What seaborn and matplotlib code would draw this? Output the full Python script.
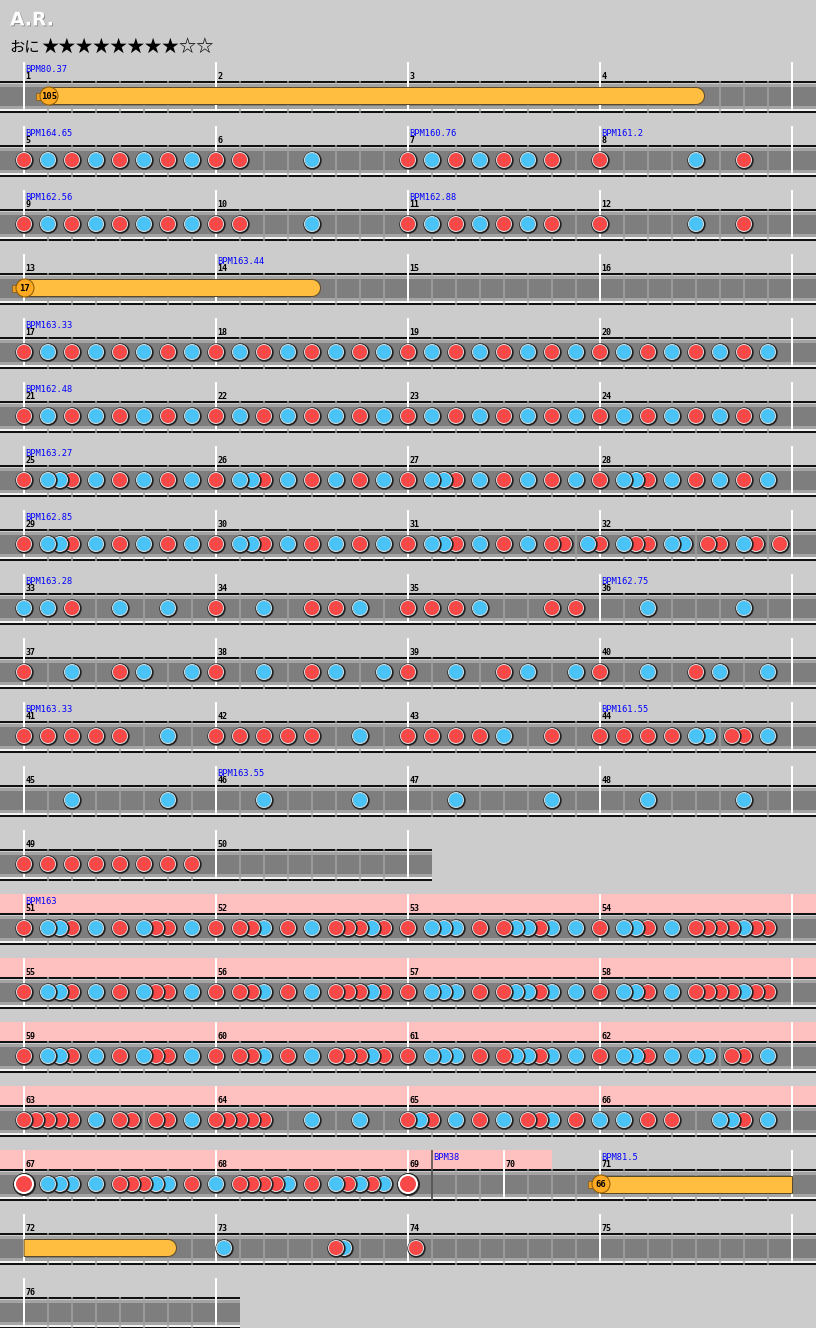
import numpy as np
import pandas as pd
import matplotlib.pyplot as plt
import seaborn as sns
from matplotlib.patches import Rectangle, Polygon, Circle
import matplotlib.patheffects as pe

# ---- chart data -------------------------------------------------------
TITLE = 'A.R.'
COURSE = 'おに'
STARS = 8
STARS_MAX = 10

# one string per measure (TJA style): 0 empty, 1 don, 2 ka, 3 big don,
# 7 balloon start, 8 end of roll. Length of string = grid resolution.
MEASURES = {
    1: '0070000000000000', 4: '0000000080000000',
    5: '1020102010201020', 6: '1010000020000000',
    7: '1020102010201000', 8: '1000000020001000',
    9: '1020102010201020', 10: '1010000020000000',
    11: '1020102010201000', 12: '1000000020001000',
    13: '7000000000000000', 14: '0000000080000000',
    17: '1020102010201020', 18: '1020102010201020',
    19: '1020102010201020', 20: '1020102010201020',
    21: '1020102010201020', 22: '1020102010201020',
    23: '1020102010201020', 24: '1020102010201020',
    25: '1022102010201020', 26: '1022102010201020',
    27: '1022102010201020', 28: '1022102010201020',
    29: '1022102010201020', 30: '1022102010201020',
    31: '1022102010201102', 32: '1021102201102101',
    33: '2020100020002000', 34: '1000200010102000',
    35: '1010102000001010', 36: '0000200000002000',
    37: '1000200010200020', 38: '1000200010200020',
    39: '1000200010200020', 40: '1000200010200020',
    41: '1010101010002000', 42: '1010101010002000',
    43: '1010101020001000', 44: '1010101022011020',
    45: '0000200000002000', 46: '0000200000002000',
    47: '0000200000002000', 48: '0000200000002000',
    49: '1010101010101010',
    51: '1022102010211020', 52: '1011201020111210',
    53: '1022201012212020', 54: '1022102011112110',
    55: '1022102010211020', 56: '1011201020111210',
    57: '1022201012212020', 58: '1022102011112110',
    59: '1022102010211020', 60: '1011201020111210',
    61: '1022201012212020', 62: '1022102022011020',
    63: '1111102011011020', 64: '1111100020002000',
    65: '1210201020112010', 66: '2020101000221020',
    67: '3022202011122010', 68: '2011112010212120',
    69: '30000000', 70: '00000000',
    71: '7000000000000000', 72: '0000000000008000',
    73: '020000000000000120000000', 74: '010000000000000000000000',
}
MEASURE_BEATS = {69: 2, 70: 2}
LAST_MEASURE = 76
ROW_FIRST = [1, 5, 9, 13, 17, 21, 25, 29, 33, 37, 41, 45, 49, 51, 55, 59, 63, 67, 72, 76]
BALLOON_HITS = [105, 17, 66]
BPM_MEASURE = [1, 5, 7, 8, 9, 11, 14, 17, 21, 25, 29, 33, 36, 41, 44, 46, 51, 69, 71]
BPM_OFFSET = [0, 0, 0, 0, 0, 0, 0, 0, 0, 0, 0, 0, 0, 0, 0, 0, 0, 0.25, 0]
BPM_VALUE = ['80.37', '164.65', '160.76', '161.2', '162.56', '162.88', '163.44', '163.33',
             '162.48', '163.27', '162.85', '163.28', '162.75', '163.33', '161.55', '163.55',
             '163', '38', '81.5']
GOGO_START = (51, 0.0)
GOGO_END = (70, 0.5)

# ---- layout -----------------------------------------------------------
W, H = 816, 1328
X0 = 24
BEAT = 48
ROW_Y0 = 96
ROW_STEP = 64
PT = 0.72  # points per pixel at dpi 100

RED = '#F84848'
BLUE = '#48C4F8'
BG = '#CCCCCC'

mstart, mrow, row_end = {}, {}, {}
for r, first in enumerate(ROW_FIRST):
    last = ROW_FIRST[r + 1] - 1 if r + 1 < len(ROW_FIRST) else LAST_MEASURE
    x = X0
    for m in range(first, last + 1):
        mstart[m] = x
        mrow[m] = r
        x += MEASURE_BEATS.get(m, 4) * BEAT
    row_end[r] = x


def row_y(r):
    return ROW_Y0 + ROW_STEP * r


def mpos(m, frac):
    return mstart[m] + frac * MEASURE_BEATS.get(m, 4) * BEAT


# parse notes and rolls
note_rows = []
rolls = []
open_roll = None
for m in range(1, LAST_MEASURE + 1):
    s = MEASURES.get(m, '0')
    for i, ch in enumerate(s):
        x = mpos(m, i / len(s))
        r = mrow[m]
        if ch in '123':
            kind = {'1': 'don', '2': 'ka', '3': 'don'}[ch]
            note_rows.append(dict(x=x, y=row_y(r), row=r, kind=kind, big=ch == '3'))
        elif ch in '57':
            open_roll = dict(row=r, x=x, balloon=ch == '7')
        elif ch == '8':
            rolls.append((open_roll, r, x))
            open_roll = None

notes = pd.DataFrame(note_rows)
# earlier notes sit on top of later ones: layer index inside each chain of overlapping notes
notes = notes.sort_values(['row', 'x']).reset_index(drop=True)
layer = []
prev_row, prev_x, j = None, None, 0
for _, n in notes.iterrows():
    if n['row'] == prev_row and n['x'] - prev_x < 20:
        j += 1
    else:
        j = 0
    layer.append(j)
    prev_row, prev_x = n['row'], n['x']
notes['layer'] = layer

# ---- figure -----------------------------------------------------------
sns.set_style('white')
plt.rcParams['font.family'] = ['DejaVu Sans']

fig = plt.figure(figsize=(W / 100, H / 100), dpi=100, facecolor=BG)
ax = fig.add_axes([0, 0, 1, 1])
ax.set_facecolor(BG)

g0 = mpos(*GOGO_START)
g1 = mpos(*GOGO_END)
g0_row, g1_row = mrow[GOGO_START[0]], mrow[GOGO_END[0]]

for r in range(len(ROW_FIRST)):
    c = row_y(r)
    lane_w = row_end[r] + 24
    # gogo time band
    if g0_row <= r <= g1_row:
        a = g0 if r == g0_row else 0
        b = g1 if r == g1_row else W
        if a <= X0:
            a = 0
        if b >= row_end[r]:
            b = W
        ax.add_patch(Rectangle((a, c - 34), b - a, 19, color='#FFC0C0', lw=0, zorder=1))
    # lane
    ax.add_patch(Rectangle((0, c - 15), lane_w, 2, color='#111111', lw=0, zorder=2))
    ax.add_patch(Rectangle((0, c - 11.7), lane_w, 24.4, color='#7E7E7E', lw=0, zorder=2))
    ax.add_patch(Rectangle((0, c - 11.7), lane_w, 2.7, color='#A4A4A4', lw=0, zorder=2))
    ax.add_patch(Rectangle((0, c + 9.5), lane_w, 3.2, color='#A4A4A4', lw=0, zorder=2))
    ax.add_patch(Rectangle((0, c + 12.7), lane_w, 2.3, color='#F4F4F4', lw=0, zorder=2))
    ax.add_patch(Rectangle((0, c + 15), lane_w, 2, color='#111111', lw=0, zorder=2))

# beat grid, bar lines and measure numbers
for m in range(1, LAST_MEASURE + 1):
    c = row_y(mrow[m])
    x = mstart[m]
    nb = MEASURE_BEATS.get(m, 4) * 2
    gx = [x + k * BEAT / 2 for k in range(1, nb)]
    ax.vlines(gx, c - 15, c + 17, color='#A2A2A2', lw=1.5 * PT, zorder=3)
    ax.vlines(x, c - 34, c + 15, color='white', lw=2 * PT, zorder=4)
    ax.text(x + 1.5, c - 19.7, str(m), fontsize=6, family='DejaVu Sans Mono', weight='bold',
            color='black', va='center', ha='left', zorder=6)
for r in range(len(ROW_FIRST)):
    c = row_y(r)
    ax.vlines(row_end[r], c - 34, c + 15, color='white', lw=2 * PT, zorder=4)

# BPM changes
for m, off, val in zip(BPM_MEASURE, BPM_OFFSET, BPM_VALUE):
    c = row_y(mrow[m])
    x = mpos(m, off)
    if off > 0:
        ax.vlines(x, c - 34, c + 17, color='#444444', lw=1.5 * PT, zorder=4)
    ax.text(x + 1, c - 26.5, 'BPM' + val, fontsize=6.3, family='DejaVu Sans Mono',
            color='#0000FF', va='center', ha='left', zorder=6)


# drumrolls / balloons
def roll_shape(x0, x1, c, round_end):
    h = 8.5
    pts = [(x0, c - h), (x1, c - h)]
    if round_end:
        t = np.linspace(-np.pi / 2, np.pi / 2, 30)
        pts += [(x1 + h * np.cos(a), c + h * np.sin(a)) for a in t]
    else:
        pts += [(x1, c + h)]
    pts += [(x0, c + h)]
    return pts


balloon_no = 0
for start, end_row, end_x in rolls:
    for r in range(start['row'], end_row + 1):
        c = row_y(r)
        x0 = start['x'] if r == start['row'] else X0
        x1 = end_x if r == end_row else row_end[r]
        ax.add_patch(Polygon(roll_shape(x0, x1, c, r == end_row), closed=True,
                             facecolor='#FFBE40', edgecolor='#5A4A28', lw=1 * PT, zorder=7))
    if start['balloon']:
        c = row_y(start['row'])
        hx = start['x']
        ax.add_patch(Rectangle((hx - 12, c - 3.5), 6, 7, facecolor='#F0A020',
                               edgecolor='#7A5010', lw=0.6 * PT, zorder=8))
        ax.add_patch(Circle((hx + 1, c), 9, facecolor='#FFAA22', edgecolor='#8A5A00',
                            lw=1 * PT, zorder=8))
        ax.text(hx + 1, c + 0.5, str(BALLOON_HITS[balloon_no]), fontsize=6.4,
                family='DejaVu Sans Mono', weight='bold', color='black',
                ha='center', va='center', zorder=9)
        balloon_no += 1

# notes: one pair of layers (dark ring + fill) per overlap rank
palette = {'don': RED, 'ka': BLUE}
for j in sorted(notes['layer'].unique()):
    z = 100 - 3 * j
    for big in (False, True):
        d = notes[(notes['layer'] == j) & (notes['big'] == big)]
        if d.empty:
            continue
        ring_r, fill_r, edge_w, edge_c = (11.5, 9.0, 2.0, 'white') if big else (9.2, 7.5, 1.0, '#D8D8D8')
        sns.scatterplot(data=d, x='x', y='y', color='#222222', s=(2 * ring_r * PT) ** 2,
                        linewidth=0, ax=ax, zorder=z, legend=False)
        sns.scatterplot(data=d, x='x', y='y', hue='kind', palette=palette,
                        s=(2 * fill_r * PT) ** 2, edgecolor=edge_c, linewidth=edge_w * PT,
                        ax=ax, zorder=z + 1, legend=False)

# header
ax.text(10, 20, TITLE, fontsize=13.5, weight='bold', color='white', ha='left', va='center',
        path_effects=[pe.withSimplePatchShadow(offset=(0.6, -0.6), shadow_rgbFace='#777777', alpha=0.8)],
        zorder=10)
ax.text(9, 47, COURSE, fontsize=11, family=['Noto Sans CJK JP', 'DejaVu Sans'],
        color='black', ha='left', va='center', zorder=10)
ax.text(41, 47, '★' * STARS + '☆' * (STARS_MAX - STARS), fontsize=12.4,
        family=['Noto Sans CJK JP', 'DejaVu Sans'], color='black', ha='left', va='center', zorder=10)

ax.set_xlim(0, W)
ax.set_ylim(H, 0)
ax.axis('off')
fig.savefig('out.png', dpi=100, facecolor=BG)
